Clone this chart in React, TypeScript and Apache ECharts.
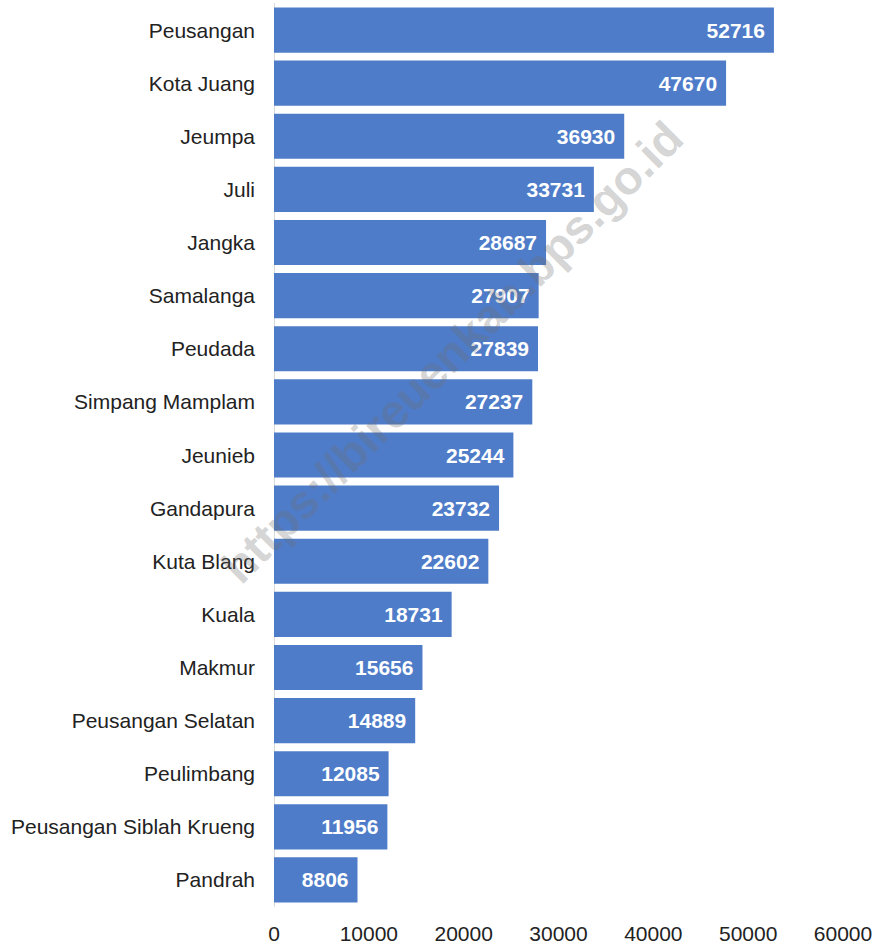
import React, { useEffect, useRef } from "react";
import * as echarts from "echarts";

const categories = [
  "Peusangan",
  "Kota Juang",
  "Jeumpa",
  "Juli",
  "Jangka",
  "Samalanga",
  "Peudada",
  "Simpang Mamplam",
  "Jeunieb",
  "Gandapura",
  "Kuta Blang",
  "Kuala",
  "Makmur",
  "Peusangan Selatan",
  "Peulimbang",
  "Peusangan Siblah Krueng",
  "Pandrah",
];
const values = [
  52716, 47670, 36930, 33731, 28687, 27907, 27839, 27237, 25244, 23732, 22602,
  18731, 15656, 14889, 12085, 11956, 8806,
];
const watermark = "https://bireuenkab.bps.go.id";

const FONT = "'Liberation Sans', Arial, sans-serif";

export default function App() {
  const ref = useRef<HTMLDivElement>(null);
  useEffect(() => {
    if (!ref.current) return;
    const chart = echarts.init(ref.current, null, { renderer: "svg" });
    chart.setOption({
      animation: false,
      grid: {
        left: 274,
        right: 32,
        top: 3.5,
        bottom: 40.5,
        containLabel: false,
        outerBoundsMode: "none",
      },
      xAxis: {
        type: "value",
        min: 0,
        max: 60000,
        interval: 10000,
        axisLine: { show: false },
        axisTick: { show: false },
        splitLine: { show: false },
        axisLabel: {
          color: "#222",
          fontSize: 21,
          fontFamily: FONT,
          margin: 16,
          formatter: (v: number) => String(v),
        },
      },
      yAxis: {
        type: "category",
        data: categories,
        inverse: true,
        axisLine: { show: true, lineStyle: { color: "#d9d9d9", width: 1 } },
        axisTick: { show: false },
        axisLabel: { color: "#222", fontSize: 21, fontFamily: FONT, margin: 19 },
      },
      series: [
        {
          type: "bar",
          data: values,
          barCategoryGap: "15%",
          itemStyle: { color: "#4e7cc9" },
          label: {
            show: true,
            position: "insideRight",
            distance: 9,
            color: "#fff",
            fontWeight: "bold",
            fontSize: 21,
            fontFamily: FONT,
          },
        },
      ],
      graphic: [
        {
          type: "text",
          x: 452,
          y: 352,
          rotation: Math.PI / 4,
          z: 100,
          style: {
            text: watermark,
            fill: "rgba(110,110,110,0.3)",
            font: "bold 47px 'Liberation Sans', Arial, sans-serif",
            textAlign: "center",
            textVerticalAlign: "middle",
          },
        },
      ],
    });
    return () => chart.dispose();
  }, []);
  return (
    <div
      ref={ref}
      style={{ position: "fixed", left: 0, top: 0, width: 875, height: 947, background: "#fff" }}
    />
  );
}
